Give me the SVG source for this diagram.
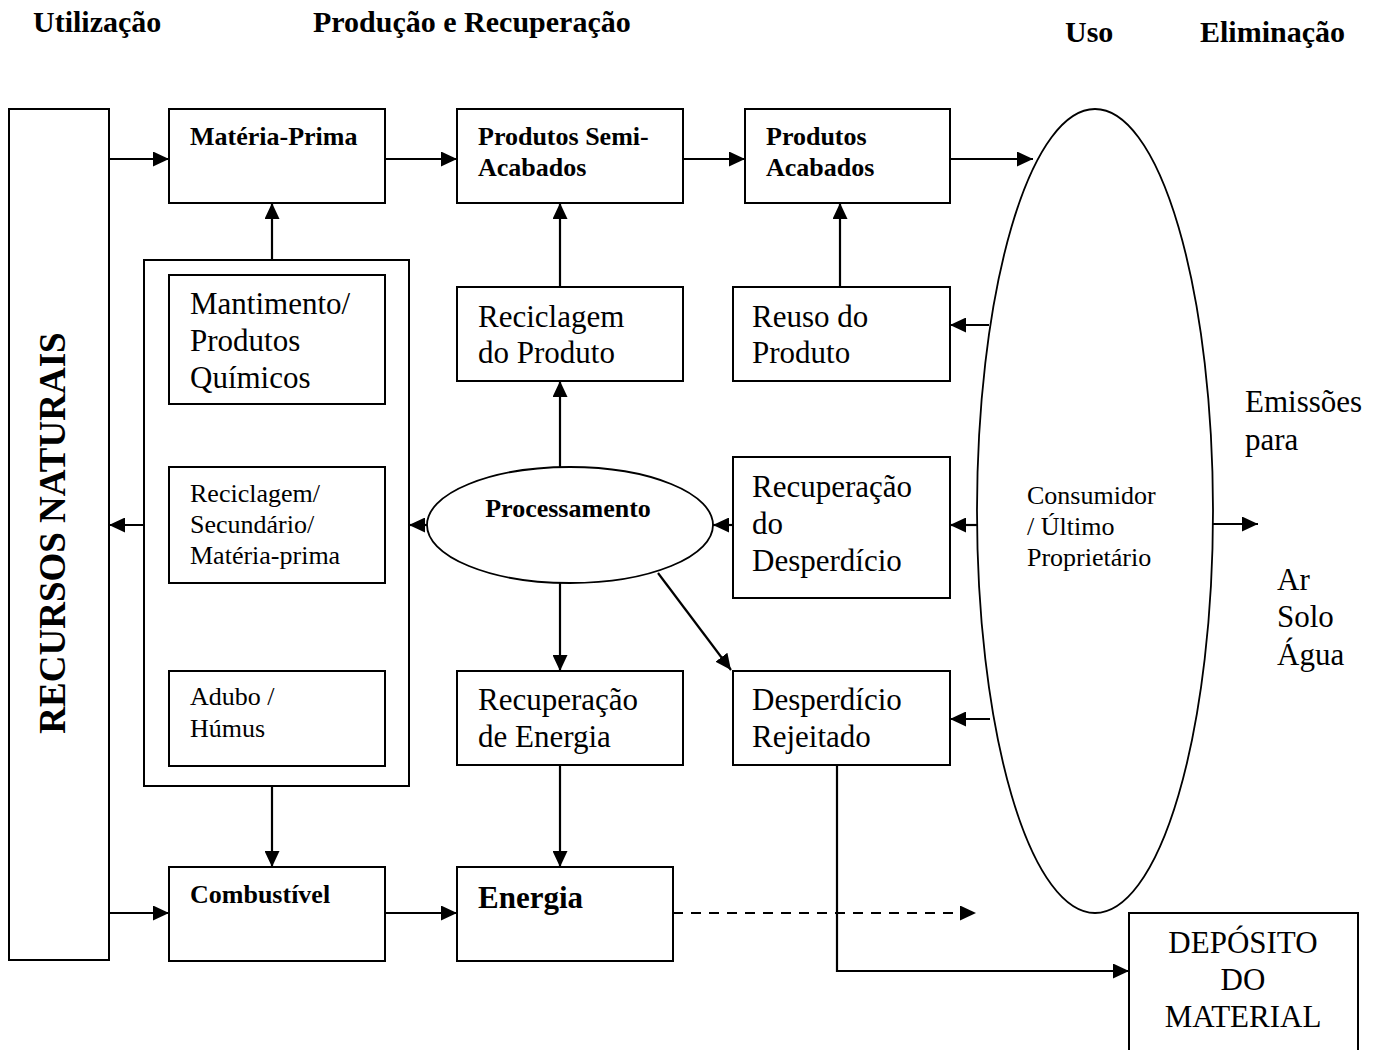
<svg xmlns="http://www.w3.org/2000/svg" width="1387" height="1050" viewBox="0 0 1387 1050">
  <style>
    text { font-family: "Liberation Serif", "Times New Roman", serif; fill: #000; }
    .b { font-weight: bold; }
    .hd { font-size: 30px; font-weight: bold; }
    .lg { font-size: 31px; }
    .md { font-size: 26px; }
    .box { fill: #fff; stroke: #000; stroke-width: 2; }
    .oval { fill: #fff; stroke: #000; stroke-width: 1.8; }
    .cn { fill: none; stroke: #000; stroke-width: 2.2; marker-end: url(#ah); }
    .dash { stroke-dasharray: 10 8; }
  </style>
  <defs>
    <marker id="ah" viewBox="0 0 16 15" refX="16" refY="7.5" markerWidth="16" markerHeight="15" orient="auto" markerUnits="userSpaceOnUse">
      <path d="M0,0 L16,7.5 L0,15 z" fill="#000"/>
    </marker>
  </defs>
  <rect width="1387" height="1050" fill="#fff"/>

  <!-- column headings -->
  <g id="headings">
    <text class="hd" x="33" y="32">Utilização</text>
    <text class="hd" x="313" y="32">Produção e Recuperação</text>
    <text class="hd" x="1065" y="42">Uso</text>
    <text class="hd" x="1200" y="42">Eliminação</text>
  </g>

  <!-- connectors -->
  <g id="connectors">
    <path class="cn" d="M109,159 H169"/>
    <path class="cn" d="M385,159 H457"/>
    <path class="cn" d="M683,159 H745"/>
    <path class="cn" d="M950,159 H1033"/>
    <path class="cn" d="M272,260 V203"/>
    <path class="cn" d="M144,525 H109"/>
    <path class="cn" d="M427,525 H409"/>
    <path class="cn" d="M733,525 H713"/>
    <path class="cn" d="M978,525 H950"/>
    <path class="cn" d="M989,325 H950"/>
    <path class="cn" d="M990,719 H950"/>
    <path class="cn" d="M560,287 V203"/>
    <path class="cn" d="M840,287 V203"/>
    <path class="cn" d="M560,467 V381"/>
    <path class="cn" d="M560,583 V671"/>
    <path class="cn" d="M658,573 L731,670"/>
    <path class="cn" d="M272,786 V867"/>
    <path class="cn" d="M560,765 V867"/>
    <path class="cn" d="M109,913 H169"/>
    <path class="cn" d="M385,913 H457"/>
    <path class="cn dash" d="M673,913 H976"/>
    <path class="cn" d="M837,765 V971 H1129"/>
    <path class="cn" d="M1208,524 H1258"/>
  </g>

  <g id="recursos-naturais">
    <rect class="box" x="9" y="109" width="100" height="851"/>
    <text class="b" font-size="37" text-anchor="middle" transform="translate(65,533) rotate(-90)">RECURSOS NATURAIS</text>
  </g>

  <g id="materia-prima">
    <rect class="box" x="169" y="109" width="216" height="94"/>
    <text class="md b" x="190" y="145">Matéria-Prima</text>
  </g>

  <g id="semi-acabados">
    <rect class="box" x="457" y="109" width="226" height="94"/>
    <text class="md b" x="478" y="145">Produtos Semi-</text>
    <text class="md b" x="478" y="176">Acabados</text>
  </g>

  <g id="acabados">
    <rect class="box" x="745" y="109" width="205" height="94"/>
    <text class="md b" x="766" y="145">Produtos</text>
    <text class="md b" x="766" y="176">Acabados</text>
  </g>

  <!-- outer frame holding the three recovered-material boxes -->
  <g id="grupo-recuperados">
    <rect class="box" x="144" y="260" width="265" height="526"/>
  </g>

  <g id="mantimento">
    <rect class="box" x="169" y="275" width="216" height="129"/>
    <text class="lg" x="190" y="314">Mantimento/</text>
    <text class="lg" x="190" y="351">Produtos</text>
    <text class="lg" x="190" y="388">Químicos</text>
  </g>

  <g id="secundario">
    <rect class="box" x="169" y="467" width="216" height="116"/>
    <text class="md" x="190" y="502">Reciclagem/</text>
    <text class="md" x="190" y="533">Secundário/</text>
    <text class="md" x="190" y="564">Matéria-prima</text>
  </g>

  <g id="adubo">
    <rect class="box" x="169" y="671" width="216" height="95"/>
    <text class="md" x="190" y="705">Adubo /</text>
    <text class="md" x="190" y="737">Húmus</text>
  </g>

  <g id="reciclagem-produto">
    <rect class="box" x="457" y="287" width="226" height="94"/>
    <text class="lg" x="478" y="327">Reciclagem</text>
    <text class="lg" x="478" y="363">do Produto</text>
  </g>

  <g id="reuso-produto">
    <rect class="box" x="733" y="287" width="217" height="94"/>
    <text class="lg" x="752" y="327">Reuso do</text>
    <text class="lg" x="752" y="363">Produto</text>
  </g>

  <g id="processamento">
    <ellipse class="oval" cx="570" cy="525" rx="143" ry="58"/>
    <text class="md b" x="568" y="517" text-anchor="middle">Processamento</text>
  </g>

  <g id="recuperacao-desperdicio">
    <rect class="box" x="733" y="457" width="217" height="141"/>
    <text class="lg" x="752" y="497">Recuperação</text>
    <text class="lg" x="752" y="534">do</text>
    <text class="lg" x="752" y="571">Desperdício</text>
  </g>

  <g id="recuperacao-energia">
    <rect class="box" x="457" y="671" width="226" height="94"/>
    <text class="lg" x="478" y="710">Recuperação</text>
    <text class="lg" x="478" y="747">de Energia</text>
  </g>

  <g id="desperdicio-rejeitado">
    <rect class="box" x="733" y="671" width="217" height="94"/>
    <text class="lg" x="752" y="710">Desperdício</text>
    <text class="lg" x="752" y="747">Rejeitado</text>
  </g>

  <g id="combustivel">
    <rect class="box" x="169" y="867" width="216" height="94"/>
    <text class="md b" x="190" y="903">Combustível</text>
  </g>

  <g id="energia">
    <rect class="box" x="457" y="867" width="216" height="94"/>
    <text class="b" font-size="31" x="478" y="908">Energia</text>
  </g>

  <g id="consumidor">
    <ellipse class="oval" cx="1095" cy="511" rx="118" ry="402"/>
    <text class="md" x="1027" y="504">Consumidor</text>
    <text class="md" x="1027" y="535">/ Último</text>
    <text class="md" x="1027" y="566">Proprietário</text>
  </g>

  <g id="emissoes">
    <text class="lg" x="1245" y="412">Emissões</text>
    <text class="lg" x="1245" y="450">para</text>
    <text class="lg" x="1277" y="590">Ar</text>
    <text class="lg" x="1277" y="627">Solo</text>
    <text class="lg" x="1277" y="665">Água</text>
  </g>

  <g id="deposito">
    <rect class="box" x="1129" y="913" width="229" height="145"/>
    <text class="lg" x="1243" y="953" text-anchor="middle">DEPÓSITO</text>
    <text class="lg" x="1243" y="990" text-anchor="middle">DO</text>
    <text class="lg" x="1243" y="1027" text-anchor="middle">MATERIAL</text>
  </g>
</svg>
